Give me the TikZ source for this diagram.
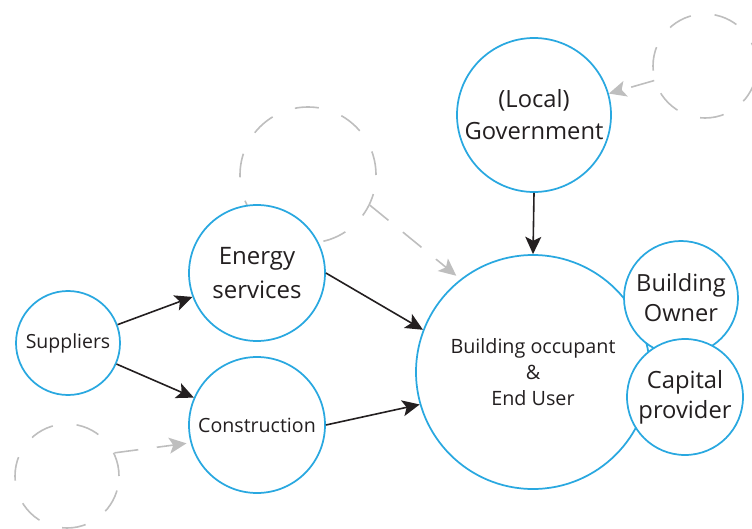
\documentclass[tikz,border=0pt]{standalone}
\usepackage{fontspec}
\setmainfont{Open Sans}
\usetikzlibrary{arrows.meta}
\definecolor{ringblue}{RGB}{41,168,224}
\definecolor{ghostgray}{RGB}{190,190,190}
\definecolor{inkgray}{RGB}{35,31,32}

\begin{document}
\begin{tikzpicture}[x=0.75pt,y=0.75pt,yscale=-1,xscale=1,
  actor/.style={circle,draw=ringblue,fill=white,line width=1.3pt,align=center,inner sep=0pt,text=inkgray},
  ghost/.style={circle,draw=ghostgray,line width=1.2pt,dash pattern=on 18pt off 18pt,inner sep=0pt},
  flow/.style={draw=inkgray,line width=1.2pt,-{Stealth[length=13pt,width=12pt,inset=3pt]}},
  hint/.style={draw=ghostgray,line width=1.2pt,dash pattern=on 18pt off 14pt,-{Stealth[length=13pt,width=12pt,inset=3pt]}}]
\path[use as bounding box] (0,0) rectangle (752,528);

%Shape: Dashed Circles
\node[ghost,minimum size=78pt] (ghostTop) at (705,66) {};
\node[ghost,minimum size=102pt] (ghostMid) at (308,175) {};
\node[ghost,minimum size=78pt] (ghostLow) at (67,476) {};

% Text Node
\node[actor,minimum size=115.5pt,font=\fontsize{17.8}{24}\selectfont] (gov) at (534,115) {(Local)\\Government};
% Text Node
\node[actor,minimum size=78pt,font=\fontsize{14.6}{16}\selectfont] (sup) at (68,343) {Suppliers};
% Text Node
\node[actor,minimum size=102pt,font=\fontsize{18}{25}\selectfont] (energy) at (257,273) {Energy\\services};
% Text Node
\node[actor,minimum size=102pt,font=\fontsize{14.7}{17}\selectfont] (constr) at (257,425) {Construction};
% Text Node
\node[actor,minimum size=175.5pt,font=\fontsize{14.8}{19.5}\selectfont] (occ) at (533,372) {Building occupant\\\&\\End User};
% Text Node
\node[actor,minimum size=85.5pt,font=\fontsize{17.7}{22.5}\selectfont] (owner) at (681,298) {Building\\Owner};
% Text Node
\node[actor,minimum size=87pt,font=\fontsize{17.8}{22.5}\selectfont] (capital) at (685,397) {Capital\\provider};

%Straight Lines
\draw[flow] (sup) -- (energy);
\draw[flow] (sup) -- (constr);
\draw[flow] (energy.east) -- (occ.159);
\draw[flow] (constr.east) -- (occ.196);
\draw[flow] (gov.south) -- (occ.north);

%Dashed Lines
\draw[hint] (ghostTop) -- (gov);
\draw[hint,shorten >=4pt] (ghostMid.-26) -- (occ.128);
\draw[hint,shorten >=3pt] (ghostLow.26) -- (constr.195);

\end{tikzpicture}
\end{document}
